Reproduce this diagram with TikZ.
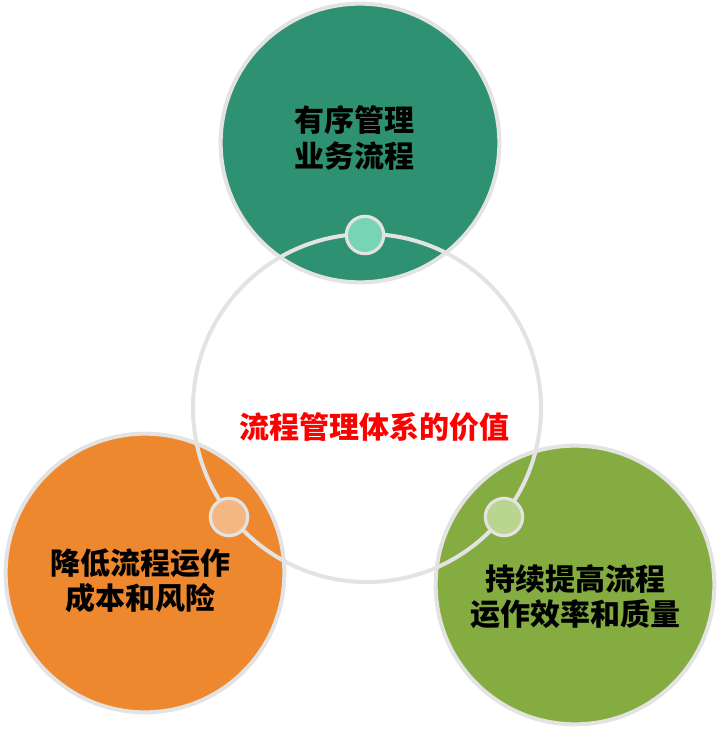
\documentclass[tikz,border=0pt]{standalone}
\usepackage{fontspec}
\newfontfamily\cjk{Noto Sans CJK SC}
\definecolor{tealgreen}{HTML}{2E9272}
\definecolor{orangefill}{HTML}{EE882E}
\definecolor{leafgreen}{HTML}{84AC40}
\definecolor{tealdot}{HTML}{77D4B5}
\definecolor{orangedot}{HTML}{F4B782}
\definecolor{leafdot}{HTML}{BAD58E}
\definecolor{ringgrey}{HTML}{E3E3E3}
\begin{document}
\begin{tikzpicture}[
  x=0.75pt, y=-0.75pt,
  petal/.style={circle,draw=ringgrey,line width=3pt,minimum size=209pt,inner sep=0pt},
  hub/.style={circle,draw=ringgrey,line width=3pt,minimum size=261pt,inner sep=0pt},
  dot/.style={circle,draw=ringgrey,line width=2.4pt,minimum size=28pt,inner sep=0pt},
  lbl/.style={font=\cjk\bfseries\fontsize{22.5pt}{26.5pt}\selectfont,align=center,text=black}]

\useasboundingbox (0,0) rectangle (720,730);

% three outer circles
\node[petal,fill=tealgreen] (top) at (360,143) {};
\node[petal,fill=orangefill] (left) at (145,573) {};
\node[petal,fill=leafgreen] (right) at (575,585) {};

% centre ring
\node[hub] (hub) at (367,408) {};

% joints on the ring
\node[dot,fill=tealdot] (jtop) at (365,235) {};
\node[dot,fill=orangedot] (jleft) at (229,517) {};
\node[dot,fill=leafdot] (jright) at (504,517) {};

% texts
\node[lbl] (ttop) at (354,138) {有序管理\\业务流程};
\node[lbl] (tleft) at (140,581) {降低流程运作\\成本和风险};
\node[lbl] (tright) at (575,597) {持续提高流程\\运作效率和质量};
\node[lbl,text=red] (thub) at (374,427) {流程管理体系的价值};
\end{tikzpicture}
\end{document}
